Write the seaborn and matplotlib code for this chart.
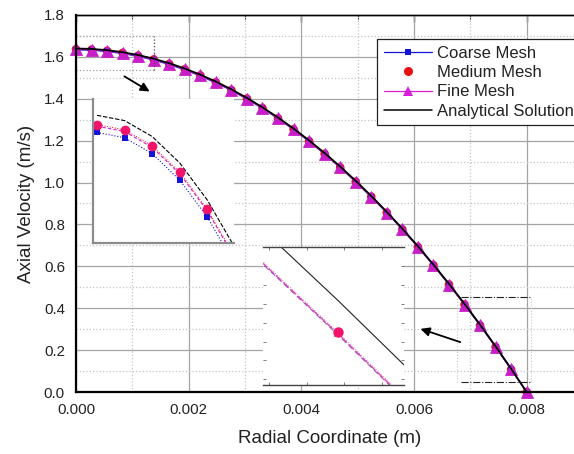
import numpy as np
import pandas as pd
import matplotlib
matplotlib.use('Agg')
import matplotlib.pyplot as plt
from matplotlib.lines import Line2D
from matplotlib.ticker import MultipleLocator, FormatStrFormatter
import seaborn as sns

# ---------------- data ----------------
radius = [0.0, 0.00027586, 0.00055172, 0.00082759, 0.00110345, 0.00137931,
          0.00165517, 0.00193103, 0.00220690, 0.00248276, 0.00275862, 0.00303448,
          0.00331034, 0.00358621, 0.00386207, 0.00413793, 0.00441379, 0.00468966,
          0.00496552, 0.00524138, 0.00551724, 0.00579310, 0.00606897, 0.00634483,
          0.00662069, 0.00689655, 0.00717241, 0.00744828, 0.00772414, 0.00800000]

analytical = [1.64000, 1.63805, 1.63220, 1.62245, 1.60880, 1.59125, 1.56980, 1.54445,
              1.51520, 1.48204, 1.44499, 1.40404, 1.35919, 1.31044, 1.25779, 1.20124,
              1.14078, 1.07643, 1.00818, 0.93603, 0.85998, 0.78002, 0.69617, 0.60842,
              0.51677, 0.42121, 0.32176, 0.21841, 0.11115, 0.0]

coarse = [1.63370, 1.63175, 1.62590, 1.61615, 1.60250, 1.58495, 1.56350, 1.53815,
          1.50890, 1.47574, 1.43999, 1.39904, 1.35419, 1.30544, 1.25279, 1.19624,
          1.13578, 1.07143, 1.00318, 0.93103, 0.85638, 0.77642, 0.69257, 0.60482,
          0.51317, 0.41761, 0.31811, 0.21476, 0.10750, 0.0]

medium = [1.63660, 1.63465, 1.62880, 1.61905, 1.60540, 1.58785, 1.56640, 1.54105,
          1.51180, 1.47864, 1.44159, 1.40064, 1.35579, 1.30704, 1.25439, 1.19784,
          1.13738, 1.07303, 1.00478, 0.93263, 0.85658, 0.77662, 0.69277, 0.60502,
          0.51337, 0.41781, 0.31836, 0.21501, 0.10775, 0.0]

fine = [1.63600, 1.63405, 1.62820, 1.61845, 1.60480, 1.58725, 1.56580, 1.54045,
        1.51120, 1.47804, 1.44099, 1.40004, 1.35519, 1.30644, 1.25379, 1.19724,
        1.13678, 1.07243, 1.00418, 0.93203, 0.85643, 0.77647, 0.69262, 0.60487,
        0.51322, 0.41766, 0.31821, 0.21486, 0.10760, 0.0]

series_labels = ["Coarse Mesh", "Medium Mesh", "Fine Mesh", "Analytical Solution"]
x_ticks = [0.000, 0.002, 0.004, 0.006, 0.008]
y_ticks = [0.0, 0.2, 0.4, 0.6, 0.8, 1.0, 1.2, 1.4, 1.6, 1.8]

df = pd.DataFrame({"r": radius, "analytical": analytical, "coarse": coarse,
                   "medium": medium, "fine": fine})

# ---------------- style ----------------
sns.set_style("white")
plt.rcParams['font.family'] = ['Liberation Sans', 'DejaVu Sans']

C_COARSE = '#1414d8'
C_MED = '#e81010'
C_FINE = '#d81cd8'
C_FINE_MAIN = '#c81ec8'
C_MED_IN = '#f2146a'

W, H = 574, 454
fig = plt.figure(figsize=(W / 100, H / 100), dpi=100)


def px_axes(l, t, r, b):
    return [l / W, 1 - b / H, (r - l) / W, (b - t) / H]


ax = fig.add_axes(px_axes(76, 15, 583, 392))
ax.set_xlim(0, 0.009)
ax.set_ylim(0, 1.8)
ax.set_xticks(x_ticks)
ax.set_yticks(y_ticks)
ax.xaxis.set_minor_locator(MultipleLocator(0.001))
ax.yaxis.set_minor_locator(MultipleLocator(0.1))
ax.xaxis.set_major_formatter(FormatStrFormatter('%.3f'))
ax.yaxis.set_major_formatter(FormatStrFormatter('%.1f'))
ax.set_axisbelow(True)
ax.grid(which='major', color='#a4a4a4', lw=0.9, ls='-')
ax.grid(which='minor', color='#c4c4c4', lw=0.9, ls=':')

for side in ['left', 'bottom']:
    ax.spines[side].set_linewidth(1.6)
    ax.spines[side].set_color('black')
ax.spines['top'].set_linewidth(1.0)
ax.spines['top'].set_color('black')
ax.spines['right'].set_visible(False)

ax.tick_params(axis='both', which='major', direction='out', length=5, width=1.2,
               labelsize=10.8, pad=3, colors='black', labelcolor='#222222')
ax.tick_params(axis='both', which='minor', direction='out', length=3, width=1.0)
ax.tick_params(axis='x', which='both', top=False)

sec = ax.secondary_xaxis('top')
sec.set_xticks(x_ticks)
sec.xaxis.set_minor_locator(MultipleLocator(0.001))
sec.tick_params(which='major', direction='in', length=5, width=1.0, labeltop=False)
sec.tick_params(which='minor', direction='in', length=3, width=0.8)
sec.spines['top'].set_linewidth(1.0)

# main data
sns.lineplot(data=df, x='r', y='coarse', ax=ax, color=C_COARSE, lw=0.9, marker='s',
             markersize=4.5, markeredgewidth=0, mec=C_COARSE, estimator=None,
             sort=False, clip_on=False, legend=False)
sns.scatterplot(data=df, x='r', y='medium', ax=ax, color=C_MED, marker='o', s=38,
                edgecolor='none', clip_on=False, legend=False)
sns.lineplot(data=df, x='r', y='fine', ax=ax, color=C_FINE_MAIN, lw=0.9, marker='^',
             markersize=8.5, markeredgewidth=0.6, mec=C_FINE_MAIN, estimator=None,
             sort=False, clip_on=False, legend=False)
sns.lineplot(data=df, x='r', y='analytical', ax=ax, color='black', lw=1.3,
             estimator=None, sort=False, legend=False)

ax.set_xlabel('Radial Coordinate (m)', fontsize=13.5, color='#222222', labelpad=9)
ax.set_ylabel('Axial Velocity (m/s)', fontsize=13.5, color='#222222', labelpad=6)

# zoom rectangles
ax.plot([0, 0.00138], [1.700, 1.700], color='#a0a0a0', lw=0.9, ls=':')
ax.plot([0, 0.00138], [1.538, 1.538], color='#a0a0a0', lw=0.9, ls=':')
ax.plot([0.00138, 0.00138], [1.538, 1.700], color='#444444', lw=0.9, ls=':')
ax.plot([0.00683, 0.00808], [0.4537, 0.4537], color='#222222', lw=0.8, ls='-.')
ax.plot([0.00683, 0.00808], [0.0478, 0.0478], color='#222222', lw=0.8, ls='-.')
ax.plot([0.00676, 0.00676], [0.0478, 0.4537], color='#c8c8c8', lw=0.8, ls=':')
ax.plot([0.00808, 0.00808], [0.0478, 0.4537], color='#c8c8c8', lw=0.8, ls=':')

# arrows
ax.annotate('', xy=(0.001349, 1.428), xytext=(0.000816, 1.514),
            arrowprops=dict(arrowstyle='-|>', color='black', lw=1.3, mutation_scale=13))
ax.annotate('', xy=(0.006069, 0.3056), xytext=(0.006868, 0.234),
            arrowprops=dict(arrowstyle='-|>', color='black', lw=1.3, mutation_scale=13))

# legend
handles = [
    Line2D([], [], color=C_COARSE, lw=0.9, marker='s', markersize=5, mew=0),
    Line2D([], [], color=C_MED, lw=0, marker='o', markersize=6.5, mew=0),
    Line2D([], [], color=C_FINE, lw=0.9, marker='^', markersize=7, mew=0),
    Line2D([], [], color='black', lw=1.1),
]
leg = ax.legend(handles, series_labels, loc='upper left',
                bbox_to_anchor=((377 - 76) / 507, (392 - 39) / 377),
                borderaxespad=0, fontsize=12, frameon=True, fancybox=False,
                framealpha=1, edgecolor='#222222', handlelength=2.9,
                handletextpad=0.3, labelspacing=0.26, borderpad=0.4)
leg.get_frame().set_linewidth(0.9)
for t in leg.get_texts():
    t.set_color('#222222')

# ---------------- inset 1 (near the axis) ----------------
ax1 = fig.add_axes(px_axes(93, 99, 234, 243))
ax1.set_facecolor('white')
ax1.set_xlim(-0.00004, 0.00137)
ax1.set_ylim(1.593, 1.646)
sns.lineplot(data=df, x='r', y='analytical', ax=ax1, color='black', lw=0.8,
             ls=(0, (4, 1.5)), estimator=None, sort=False, legend=False)
sns.lineplot(data=df, x='r', y='coarse', ax=ax1, color=C_COARSE, lw=0.8, ls=':',
             marker='s', markersize=4, mew=0, mec=C_COARSE, estimator=None,
             sort=False, legend=False)
sns.lineplot(data=df, x='r', y='fine', ax=ax1, color=C_FINE, lw=0.8, ls=(0, (3, 2)),
             marker='^', markersize=5, mew=0, mec=C_FINE, estimator=None,
             sort=False, legend=False)
sns.lineplot(data=df, x='r', y='medium', ax=ax1, color=C_MED, lw=0.7, ls=':',
             marker='o', markersize=7, mew=0, mec=C_MED_IN, mfc=C_MED_IN,
             estimator=None, sort=False, legend=False)
for side in ['top', 'right']:
    ax1.spines[side].set_visible(False)
for side in ['left', 'bottom']:
    ax1.spines[side].set_color('#8c8c8c')
    ax1.spines[side].set_linewidth(1.6)
ax1.set_xticks([])
ax1.set_yticks([])
ax1.set_xlabel('')
ax1.set_ylabel('')

# ---------------- inset 2 (near the wall) ----------------
ax2 = fig.add_axes(px_axes(263, 247, 404, 385))
ax2.set_facecolor('white')
ax2.set_xlim(0.0074284, 0.0074660)
ax2.set_ylim(0.20938, 0.22405)
sns.lineplot(data=df, x='r', y='analytical', ax=ax2, color='#222222', lw=0.8,
             estimator=None, sort=False, legend=False)
sns.lineplot(data=df, x='r', y='coarse', ax=ax2, color='#9a50c8', lw=0.8, ls=(0, (5, 3)),
             estimator=None, sort=False, legend=False)
sns.lineplot(data=df, x='r', y='fine', ax=ax2, color='#d040b8', lw=0.9, ls=(0, (6, 2)),
             marker='^', markersize=6, mew=0, mec=C_FINE, estimator=None,
             sort=False, legend=False)
sns.lineplot(data=df, x='r', y='medium', ax=ax2, color='#e86aa8', lw=0.7, ls=':',
             marker='o', markersize=7.5, mew=0, mec=C_MED_IN, mfc=C_MED_IN,
             estimator=None, sort=False, legend=False)
for side in ['left', 'right']:
    ax2.spines[side].set_visible(False)
for side in ['top', 'bottom']:
    ax2.spines[side].set_color('#444444')
    ax2.spines[side].set_linewidth(1.0)
ax2.xaxis.set_major_locator(MultipleLocator(0.00001))
ax2.yaxis.set_major_locator(MultipleLocator(0.002))
ax2.tick_params(axis='both', which='both', direction='in', length=2, width=0.6,
                colors='#666666', labelbottom=False, labelleft=False,
                top=True, right=True, bottom=True, left=True)
ax2.set_xlabel('')
ax2.set_ylabel('')

fig.savefig('out.png', dpi=100)
